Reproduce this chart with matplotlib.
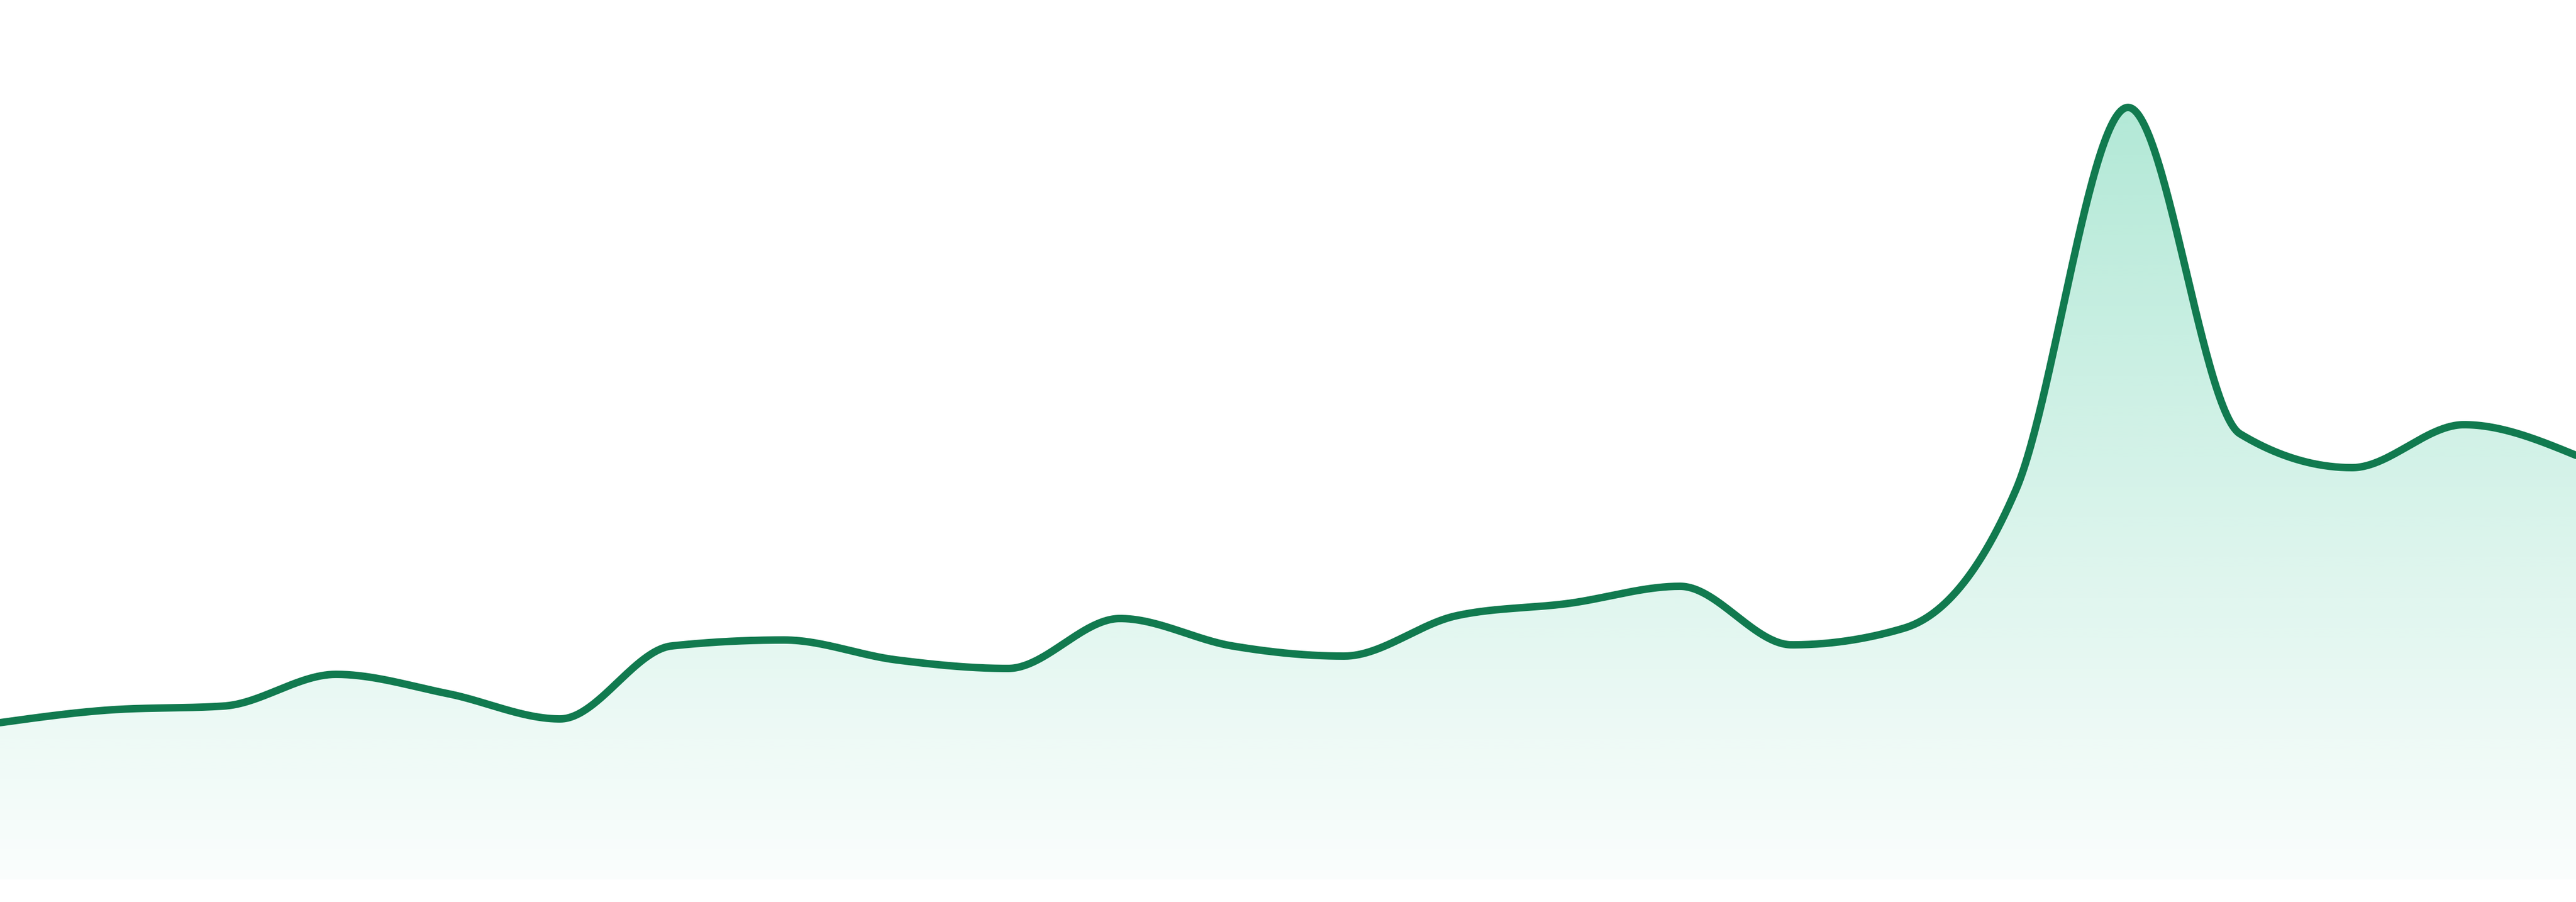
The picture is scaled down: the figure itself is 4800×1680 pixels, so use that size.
import numpy as np
import matplotlib
matplotlib.use("Agg")
import matplotlib.pyplot as plt
from matplotlib.colors import to_rgb

# ---- data (24 evenly spaced observations) ----
periods = list(range(24))
values = [292, 316, 323, 382, 346, 299, 435, 446, 409, 393, 486, 435,
          416, 491, 514, 546, 437, 468, 726, 1438, 830, 767, 847, 790]

LINE_COLOR = "#117a4f"
FILL_COLOR = "#10b981"


def monotone_x(x, y, per_seg=60):
    """Monotone cubic interpolation (d3.curveMonotoneX style)."""
    x = np.asarray(x, float)
    y = np.asarray(y, float)
    n = len(x)
    h = np.diff(x)
    s = np.diff(y) / h
    t = np.zeros(n)
    sgn = lambda v: -1.0 if v < 0 else 1.0
    for i in range(1, n - 1):
        s0, s1, h0, h1 = s[i - 1], s[i], h[i - 1], h[i]
        p = (s0 * h1 + s1 * h0) / (h0 + h1)
        t[i] = (sgn(s0) + sgn(s1)) * min(abs(s0), abs(s1), 0.5 * abs(p))
    t[0] = (3 * s[0] - t[1]) / 2
    t[-1] = (3 * s[-1] - t[-2]) / 2
    xs, ys = [], []
    for i in range(n - 1):
        u = np.linspace(0, 1, per_seg, endpoint=(i == n - 2))
        h00 = 2 * u**3 - 3 * u**2 + 1
        h10 = u**3 - 2 * u**2 + u
        h01 = -2 * u**3 + 3 * u**2
        h11 = u**3 - u**2
        xs.append(x[i] + u * h[i])
        ys.append(h00 * y[i] + h10 * h[i] * t[i] + h01 * y[i + 1] + h11 * h[i] * t[i + 1])
    return np.concatenate(xs), np.concatenate(ys)


fig = plt.figure(figsize=(24, 8.4), dpi=200)
ax = fig.add_axes([0, 0, 1, 1])
ax.set_xlim(periods[0], periods[-1])
ax.set_ylim(-42, 1638)
ax.axis("off")

xs, ys = monotone_x(periods, values)

# gradient fill under the curve
poly = ax.fill_between(xs, ys, 0, color="none", lw=0)
top = max(values)
rgb = np.array(to_rgb(FILL_COLOR))
nrow = 512
alpha = np.linspace(0.02, 0.32, nrow)[:, None]
img = np.ones((nrow, 2, 4))
img[..., :3] = rgb
img[..., 3] = alpha
im = ax.imshow(img, extent=[periods[0], periods[-1], 0, top], origin="lower",
               aspect="auto", interpolation="bilinear", zorder=1)
path = poly.get_paths()[0]
im.set_clip_path(path, transform=ax.transData)

ax.plot(xs, ys, color=LINE_COLOR, lw=5.0, solid_capstyle="round",
        solid_joinstyle="round", zorder=3)

fig.savefig("out.png", dpi=200, facecolor="white")
